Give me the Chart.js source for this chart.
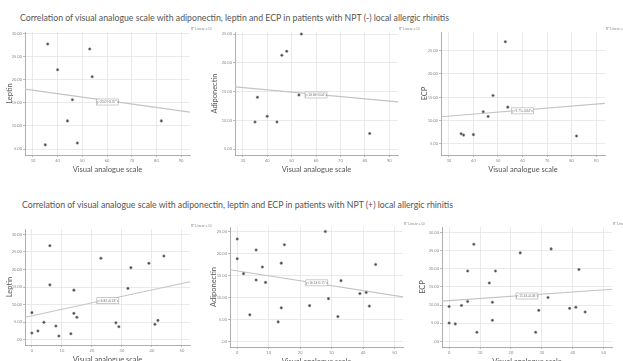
<!DOCTYPE html>
<html>
<head>
<meta charset="utf-8">
<script src="https://cdn.jsdelivr.net/npm/chart.js@4.4.1/dist/chart.umd.min.js"></script>
<style>
  body { margin: 0; background: #fff; width: 623px; height: 361px; overflow: hidden; position: relative; font-family: Lato, "Open Sans", sans-serif; }
  .title { position: absolute; white-space: nowrap; color: #555; font-size: 9px; line-height: 12px; transform-origin: 0 50%; }
  canvas { position: absolute; }
</style>
</head>
<body>
<div class="title" id="titleNeg" style="left:20px;top:12px">Correlation of visual analogue scale with adiponectin, leptin and ECP in patients with NPT (-) local allergic rhinitis</div>
<div class="title" id="titlePos" style="left:22px;top:199px">Correlation of visual analogue scale with adiponectin, leptin and ECP in patients with NPT (+) local allergic rhinitis</div>
<script>
// NPT (-) patients
const vasNeg = [35, 36, 40, 44, 46, 48, 53, 54, 82];
const leptinNeg = [5.9, 27.8, 22.2, 11.1, 15.7, 6.3, 26.7, 20.7, 11.1];
const adipoNeg = [9.7, 14.0, 10.7, 9.7, 21.3, 22.0, 14.4, 25.0, 7.7];
const ecpNeg = [7.2, 6.9, 7.0, 11.9, 10.9, 15.4, 26.9, 12.9, 6.7];

// NPT (+) patients
const vasPos = [0, 0, 2, 4, 6, 6, 8, 9, 13, 14, 14, 15, 23, 28, 29, 32, 33, 39, 41, 42, 44];
const leptinPos = [7.7, 1.9, 2.5, 4.95, 26.75, 15.6, 3.9, 1.05, 1.7, 14.1, 7.5, 6.4, 23.2, 4.8, 3.7, 14.6, 20.5, 21.75, 4.4, 5.5, 23.8];
const adipoPos = [23.4, 18.9, 15.5, 6.1, 20.9, 14.05, 17.0, 13.5, 4.5, 17.9, 7.7, 22.1, 8.2, 25.1, 9.8, 5.7, 13.9, 10.95, 11.2, 8.1, 17.6];
const ecpPos = [9.6, 5.05, 4.8, 9.9, 19.4, 11.0, 26.8, 2.5, 16.1, 10.8, 5.8, 19.4, 24.4, 2.5, 8.55, 12.1, 25.5, 9.1, 9.4, 19.8, 8.1];

// axis ticks and ranges
const xTicksNeg = [30, 40, 50, 60, 70, 80, 90];
const xTicksPos = [0, 10, 20, 30, 40, 50];
const xRangeNeg = [26.8, 93.6];
const xRangePos = [-2.3, 52.7];
const leptinTicksNeg = [5, 10, 15, 20, 25, 30];
const adipoTicksNeg = [5, 10, 15, 20, 25];
const ecpTicksNeg = [5, 10, 15, 20, 25];
const leptinTicksPos = [0, 5, 10, 15, 20, 25, 30];
const adipoTicksPos = [0, 5, 10, 15, 20, 25];
const ecpTicksPos = [0, 5, 10, 15, 20, 25, 30];

// fit line values at the left and right ends of the x axis
const fitLeptinNeg = [18.0, 13.0];
const fitAdipoNeg = [15.8, 13.2];
const fitEcpNeg = [10.85, 13.7];
const fitLeptinPos = [6.4, 16.5];
const fitAdipoPos = [16.4, 10.2];
const fitEcpPos = [11.1, 14.35];

const r2Values = [0.027, 0.012, 0.015, 0.094, 0.071, 0.012];

const yAxisW = 25, padTop = 12, padRight = 22, xAxisH = 20;

function fmtY(v) {
    return v === 0 ? '.00' : v.toFixed(2);
}

const notesPlugin = {
    id: 'notes',
    afterDatasetsDraw(chart, args, opts) {
        const ctx = chart.ctx;
        const xs = chart.scales.x, ys = chart.scales.y;
        const area = chart.chartArea;
        ctx.save();
        // R2 text top right
        ctx.font = '3.5px Lato';
        ctx.fillStyle = '#888';
        ctx.textBaseline = 'middle';
        ctx.textAlign = 'left';
        ctx.fillText('R² Linear = ' + opts.r2.toFixed(3), area.right + 1, area.top - 3);
        // equation box
        const px = xs.getPixelForValue(opts.labelAt[0]);
        const py = ys.getPixelForValue(opts.labelAt[1]);
        ctx.fillStyle = '#fff';
        ctx.strokeStyle = '#aaa';
        ctx.lineWidth = 0.6;
        ctx.fillRect(px - 11, py - 3, 22, 6);
        ctx.strokeRect(px - 11, py - 3, 22, 6);
        ctx.fillStyle = '#777';
        ctx.textAlign = 'center';
        ctx.font = '3.2px Lato';
        ctx.fillText(opts.eq, px, py);
        ctx.restore();
    }
};

function makePanel(p) {
    const canvas = document.createElement('canvas');
    const w = (p.box[1] - p.box[0]) + yAxisW + padRight;
    const h = (p.box[3] - p.box[2]) + padTop + xAxisH;
    canvas.width = w;
    canvas.height = h;
    canvas.style.left = (p.box[0] - yAxisW) + 'px';
    canvas.style.top = (p.box[2] - padTop) + 'px';
    document.body.appendChild(canvas);

    const slope = (p.fit[1] - p.fit[0]) / (p.xRange[1] - p.xRange[0]);
    const icpt = p.fit[0] - slope * p.xRange[0];
    const eq = 'y=' + icpt.toFixed(2) + (slope >= 0 ? '+' : '') + slope.toFixed(2) + '*x';

    new Chart(canvas.getContext('2d'), {
        type: 'scatter',
        data: {
            datasets: [{
                data: p.xs.map((x, i) => ({ x: x, y: p.ys[i] })),
                pointRadius: 1.3,
                pointBackgroundColor: '#4a4a4a',
                pointBorderColor: '#9a9a9a',
                pointBorderWidth: 0.5
            }, {
                type: 'line',
                data: [{ x: p.xRange[0], y: p.fit[0] }, { x: p.xRange[1], y: p.fit[1] }],
                borderColor: '#c4c4c4',
                borderWidth: 1.1,
                pointRadius: 0
            }]
        },
        options: {
            responsive: false,
            animation: false,
            layout: { padding: { top: padTop, right: padRight, left: 0, bottom: 0 } },
            plugins: {
                legend: { display: false },
                tooltip: { enabled: false },
                notes: { r2: p.r2, labelAt: p.labelAt, eq: eq }
            },
            scales: {
                x: {
                    type: 'linear',
                    min: p.xRange[0],
                    max: p.xRange[1],
                    afterBuildTicks: s => { s.ticks = p.xTicks.map(v => ({ value: v })); },
                    afterFit: s => { s.height = xAxisH; },
                    grid: { color: '#e4e4e4', lineWidth: 0.8, tickLength: 2, tickColor: '#aaa' },
                    border: { color: '#999', width: 0.8 },
                    ticks: { font: { size: 4, family: 'Lato' }, color: '#888', padding: 1, maxRotation: 0 },
                    title: { display: true, text: 'Visual analogue scale', font: { size: 7.5, family: 'Lato' }, color: '#555', padding: { top: 0, bottom: 1 } }
                },
                y: {
                    type: 'linear',
                    min: p.yRange[0],
                    max: p.yRange[1],
                    afterBuildTicks: s => { s.ticks = p.yTicks.map(v => ({ value: v })); },
                    afterFit: s => { s.width = yAxisW; },
                    grid: { color: '#e4e4e4', lineWidth: 0.8, tickLength: 2, tickColor: '#aaa' },
                    border: { color: '#999', width: 0.8 },
                    ticks: { font: { size: 4, family: 'Lato' }, color: '#888', padding: 1, callback: v => fmtY(v) },
                    title: { display: true, text: p.yTitle, font: { size: 7.5, family: 'Lato' }, color: '#555', padding: { top: p.titlePad, bottom: 0 } }
                }
            }
        },
        plugins: [notesPlugin]
    });
}

const panels = [
    { box: [25, 190, 32, 155], xs: vasNeg, ys: leptinNeg, xRange: xRangeNeg, yRange: [3.7, 30.4], xTicks: xTicksNeg, yTicks: leptinTicksNeg, yTitle: 'Leptin', fit: fitLeptinNeg, r2: r2Values[0], labelAt: [60.2, 15.2], titlePad: 5 },
    { box: [235, 398, 32, 155], xs: vasNeg, ys: adipoNeg, xRange: xRangeNeg, yRange: [3.96, 25.35], xTicks: xTicksNeg, yTicks: adipoTicksNeg, yTitle: 'Adiponectin', fit: fitAdipoNeg, r2: r2Values[1], labelAt: [60, 14.4], titlePad: 0 },
    { box: [441, 605, 32, 155], xs: vasNeg, ys: ecpNeg, xRange: xRangeNeg, yRange: [2.64, 29.0], xTicks: xTicksNeg, yTicks: ecpTicksNeg, yTitle: 'ECP', fit: fitEcpNeg, r2: r2Values[2], labelAt: [60, 12.1], titlePad: 4 },
    { box: [25, 190, 229, 345], xs: vasPos, ys: leptinPos, xRange: xRangePos, yRange: [-1.5, 31.5], xTicks: xTicksPos, yTicks: leptinTicksPos, yTitle: 'Leptin', fit: fitLeptinPos, r2: r2Values[3], labelAt: [25.3, 11.1], titlePad: 5 },
    { box: [230, 403, 227, 347], xs: vasPos, ys: adipoPos, xRange: xRangePos, yRange: [-1.23, 26.14], xTicks: xTicksPos, yTicks: adipoTicksPos, yTitle: 'Adiponectin', fit: fitAdipoPos, r2: r2Values[4], labelAt: [25.3, 13.4], titlePad: 4 },
    { box: [442, 612, 227, 347], xs: vasPos, ys: ecpPos, xRange: xRangePos, yRange: [-1.57, 31.55], xTicks: xTicksPos, yTicks: ecpTicksPos, yTitle: 'ECP', fit: fitEcpPos, r2: r2Values[5], labelAt: [25.2, 12.5], titlePad: 1 }
];

panels.forEach(makePanel);

// stretch the two headings to the width seen in the picture
[['titleNeg', 429], ['titlePos', 431]].forEach(([id, target]) => {
    const el = document.getElementById(id);
    const wNow = el.getBoundingClientRect().width;
    el.style.transform = 'scaleX(' + (target / wNow) + ')';
});
</script>
</body>
</html>
